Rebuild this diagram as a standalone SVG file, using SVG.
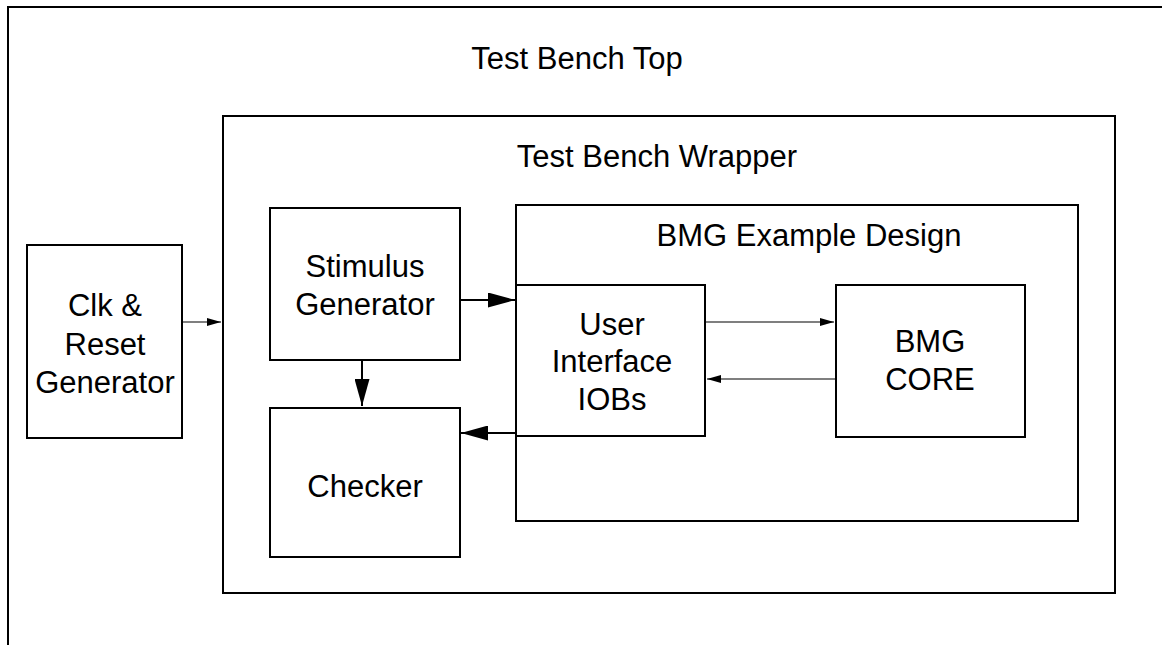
<svg xmlns="http://www.w3.org/2000/svg" width="1162" height="645" viewBox="0 0 1162 645">
<defs>
<style>
.box{fill:none;stroke:#000;stroke-width:2}
.lbl{font-family:"Liberation Sans",Arial,Helvetica,sans-serif;font-size:31px;fill:#000;text-anchor:middle}
.thin{stroke:#000;stroke-width:1.2;fill:none}
.thick{stroke:#000;stroke-width:2;fill:none}
</style>
<marker id="ahS" markerWidth="14" markerHeight="8" refX="14" refY="4" orient="auto" markerUnits="userSpaceOnUse"><path d="M0,0 L14,4 L0,8 Z" fill="#000"/></marker>
<marker id="ahL" markerWidth="27" markerHeight="15" refX="27" refY="7.5" orient="auto" markerUnits="userSpaceOnUse"><path d="M0,0 L27,7.5 L0,15 Z" fill="#000"/></marker>
</defs>
<rect width="1162" height="645" fill="#fff"/>
<g id="tb_top">
<path class="box" d="M8,645 L8,7 L1162,7"/>
<text class="lbl" x="577" y="69">Test Bench Top</text>
</g>
<g id="tb_wrapper">
<rect class="box" x="223" y="116" width="892" height="477"/>
<text class="lbl" x="657" y="167">Test Bench Wrapper</text>
</g>
<g id="clk_reset">
<rect class="box" x="27" y="245" width="155" height="193"/>
<text class="lbl" x="105" y="316">Clk &amp;</text>
<text class="lbl" x="105" y="355">Reset</text>
<text class="lbl" x="105" y="393">Generator</text>
</g>
<g id="stimulus">
<rect class="box" x="270" y="208" width="190" height="152"/>
<text class="lbl" x="365" y="277">Stimulus</text>
<text class="lbl" x="365" y="315">Generator</text>
</g>
<g id="checker">
<rect class="box" x="270" y="408" width="190" height="149"/>
<text class="lbl" x="365" y="497">Checker</text>
</g>
<g id="bmg_example">
<rect class="box" x="516" y="205" width="562" height="316"/>
<text class="lbl" x="809" y="246">BMG Example Design</text>
</g>
<g id="user_if">
<rect class="box" x="516" y="285" width="189" height="151"/>
<text class="lbl" x="612" y="335">User</text>
<text class="lbl" x="612" y="372">Interface</text>
<text class="lbl" x="612" y="410">IOBs</text>
</g>
<g id="bmg_core">
<rect class="box" x="836" y="285" width="189" height="152"/>
<text class="lbl" x="930" y="352">BMG</text>
<text class="lbl" x="930" y="390">CORE</text>
</g>
<g id="connectors">
<line class="thin" x1="182" y1="322" x2="221" y2="322" marker-end="url(#ahS)"/>
<line class="thick" x1="460" y1="300" x2="515" y2="300" marker-end="url(#ahL)"/>
<line class="thick" x1="516" y1="433" x2="461" y2="433" marker-end="url(#ahL)"/>
<line class="thick" x1="362" y1="360" x2="362" y2="406" marker-end="url(#ahL)"/>
<line class="thin" x1="705" y1="322" x2="834" y2="322" marker-end="url(#ahS)"/>
<line class="thin" x1="836" y1="379" x2="707" y2="379" marker-end="url(#ahS)"/>
</g>
</svg>
